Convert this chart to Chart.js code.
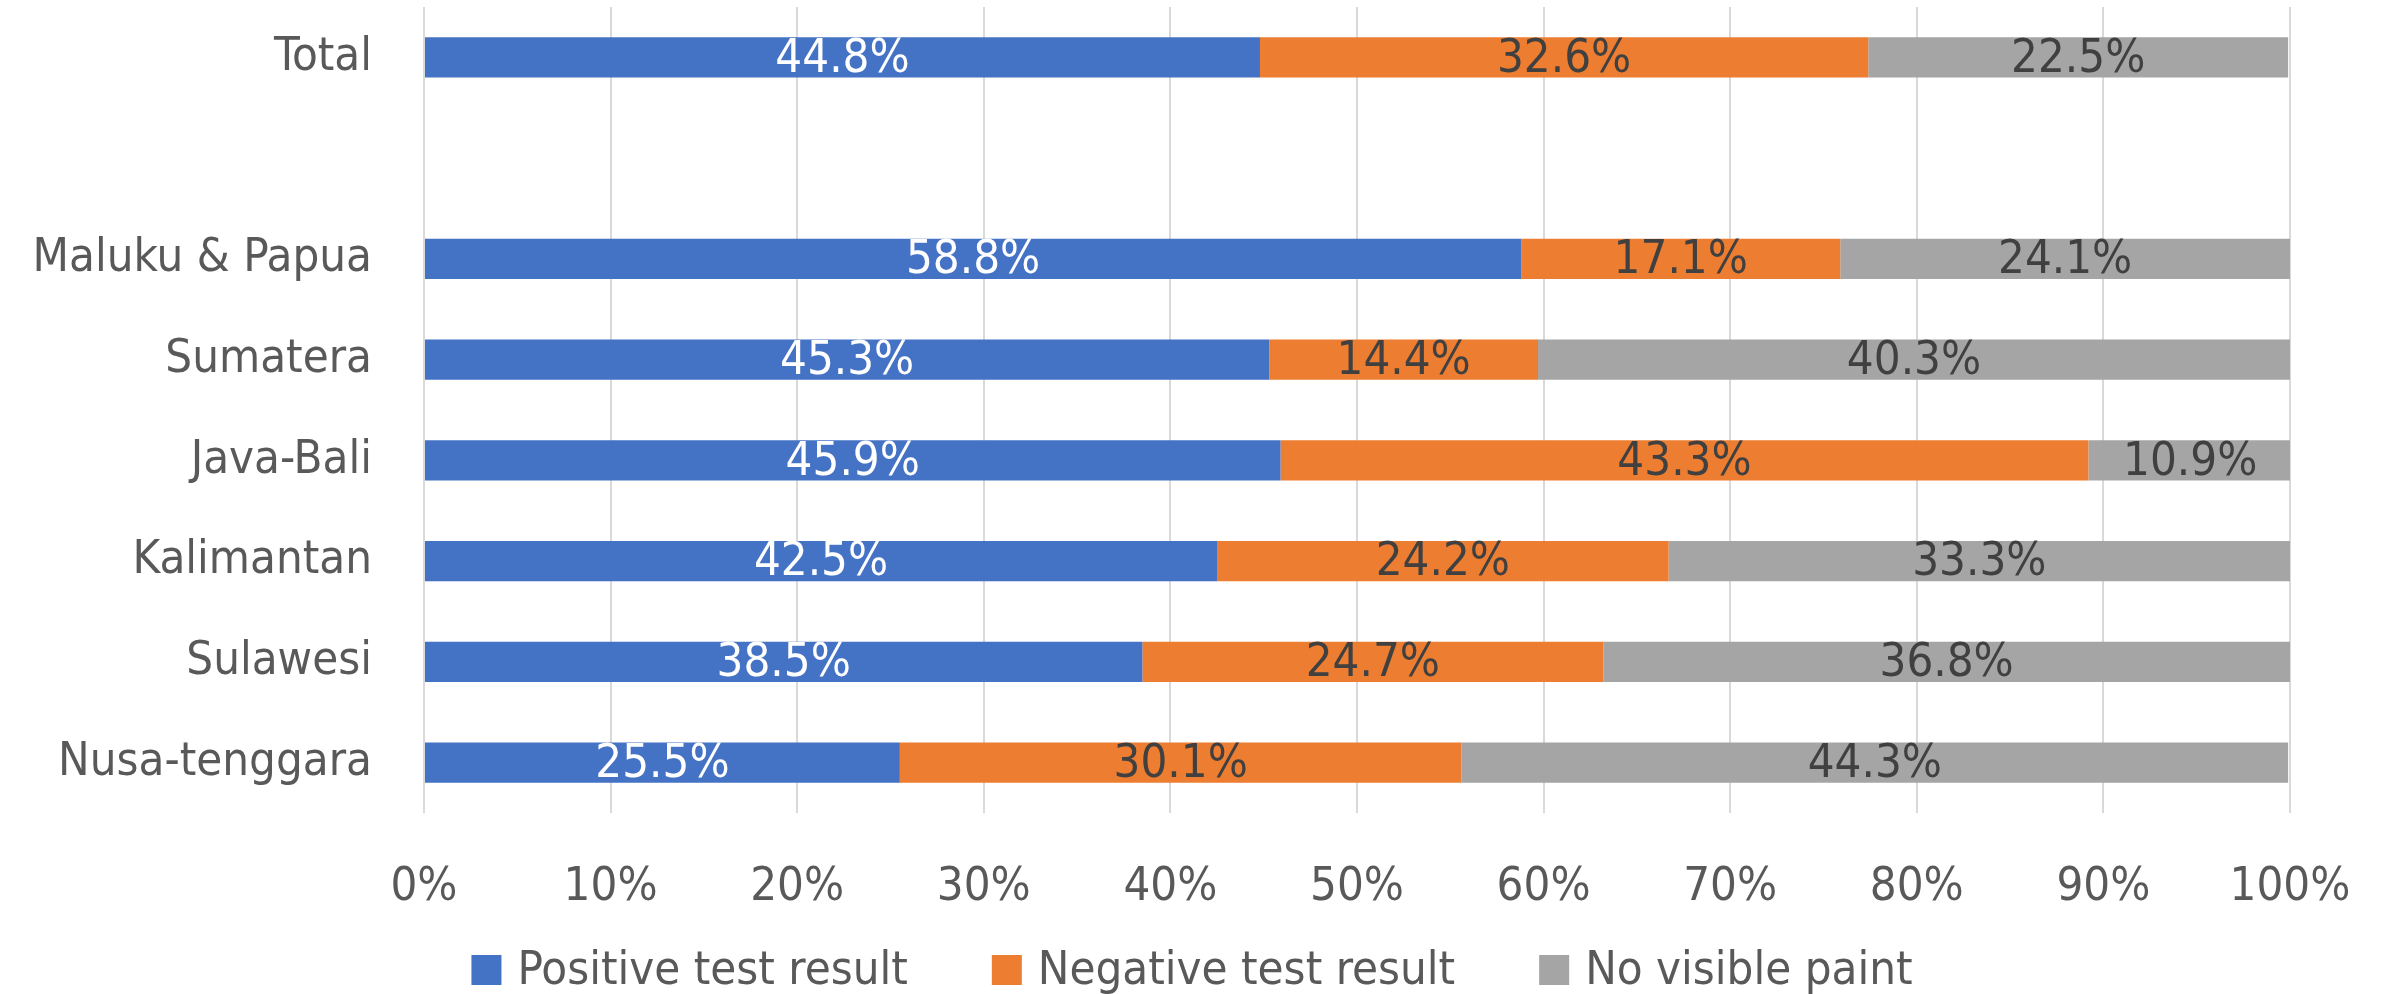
<!DOCTYPE html>
<html>
<head>
<meta charset="utf-8">
<script src="https://cdn.jsdelivr.net/npm/chart.js@4.4.1/dist/chart.umd.min.js"></script>
<style>
  html, body { margin: 0; padding: 0; background: #ffffff; }
  #wrap { width: 2384px; height: 994px; }
</style>
</head>
<body>
<div id="wrap"><canvas id="regionChart"></canvas></div>
<script>
// Regions top to bottom; the empty slot separates Total from the regions
const regions = ["Total", "", "Maluku & Papua", "Sumatera", "Java-Bali", "Kalimantan", "Sulawesi", "Nusa-tenggara"];
const positive = [44.8, null, 58.8, 45.3, 45.9, 42.5, 38.5, 25.5];
const negative = [32.6, null, 17.1, 14.4, 43.3, 24.2, 24.7, 30.1];
const noPaint  = [22.5, null, 24.1, 40.3, 10.9, 33.3, 36.8, 44.3];
const seriesNames = ["Positive test result", "Negative test result", "No visible paint"];
const percentTicks = ["0%", "10%", "20%", "30%", "40%", "50%", "60%", "70%", "80%", "90%", "100%"];

const FONT = '"DejaVu Sans Condensed", "Liberation Sans Narrow", sans-serif';
const FONT_SIZE = 47;
const TEXT_GREY = "#595959";

Chart.defaults.font.family = FONT;
Chart.defaults.font.size = FONT_SIZE;
Chart.defaults.color = TEXT_GREY;

// Writes each segment's value in the middle of its bar
const barLabels = {
  id: "barLabels",
  afterDatasetsDraw(chart) {
    const { ctx } = chart;
    ctx.save();
    ctx.font = `${FONT_SIZE}px ${FONT}`;
    ctx.textAlign = "center";
    ctx.textBaseline = "middle";
    chart.data.datasets.forEach((ds, i) => {
      chart.getDatasetMeta(i).data.forEach((bar, j) => {
        const v = ds.data[j];
        if (v == null) return;
        const { x, y } = bar.getCenterPoint();
        ctx.fillStyle = ds.labelColor;
        ctx.fillText(v.toFixed(1) + "%", x, y + 2);
      });
    });
    ctx.restore();
  }
};

// Legend row under the axis: square swatch, short gap, series name
const bottomLegend = {
  id: "bottomLegend",
  afterDraw(chart) {
    const { ctx } = chart;
    const box = 30, gap = 16, spacing = 84, cy = 970;
    ctx.save();
    ctx.font = `${FONT_SIZE}px ${FONT}`;
    ctx.textBaseline = "middle";
    ctx.textAlign = "left";
    const items = chart.data.datasets.map(ds => ({
      text: ds.label,
      color: ds.backgroundColor,
      w: box + gap + ctx.measureText(ds.label).width
    }));
    const total = items.reduce((s, it) => s + it.w, 0) + spacing * (items.length - 1);
    let x = (chart.width - total) / 2;
    items.forEach(it => {
      ctx.fillStyle = it.color;
      ctx.fillRect(x, cy - box / 2, box, box);
      ctx.fillStyle = TEXT_GREY;
      ctx.fillText(it.text, x + box + gap, cy + 2);
      x += it.w + spacing;
    });
    ctx.restore();
  }
};

new Chart(document.getElementById("regionChart"), {
  type: "bar",
  data: {
    labels: regions,
    datasets: [
      { label: seriesNames[0], data: positive, backgroundColor: "#4472C4", labelColor: "#ffffff" },
      { label: seriesNames[1], data: negative, backgroundColor: "#ED7D31", labelColor: "#404040" },
      { label: seriesNames[2], data: noPaint,  backgroundColor: "#A5A5A5", labelColor: "#404040" }
    ]
  },
  options: {
    indexAxis: "y",
    responsive: true,
    maintainAspectRatio: false,
    animation: false,
    layout: { padding: { top: 7, right: 0, left: 0, bottom: 71 } },
    datasets: {
      bar: { barPercentage: 0.4, categoryPercentage: 1.0, borderWidth: 0 }
    },
    scales: {
      x: {
        stacked: true,
        min: 0,
        max: 100,
        ticks: {
          stepSize: 10,
          padding: 47,
          color: TEXT_GREY,
          callback: (value) => percentTicks[Math.round(value / 10)]
        },
        grid: { color: "#D9D9D9", lineWidth: 2, drawTicks: false },
        border: { display: false },
        afterFit: (scale) => {
          scale.height = 110;
          scale.paddingLeft = 0;
          scale.paddingRight = 94;
        }
      },
      y: {
        stacked: true,
        ticks: { padding: 52, color: TEXT_GREY },
        grid: { display: false, drawTicks: false },
        border: { display: false },
        afterFit: (scale) => {
          scale.width = 424;
          scale.paddingTop = 0;
          scale.paddingBottom = 0;
        }
      }
    },
    plugins: {
      legend: { display: false },
      tooltip: { enabled: false }
    }
  },
  plugins: [barLabels, bottomLegend]
});
</script>
</body>
</html>
